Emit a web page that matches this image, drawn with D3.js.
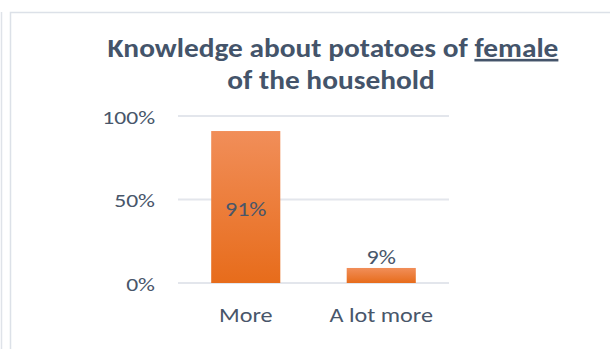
<!DOCTYPE html>
<html>
<head>
<meta charset="utf-8">
<script src="https://cdn.jsdelivr.net/npm/d3@7"></script>
<style>
  html, body { margin: 0; padding: 0; background: #fff; }
  svg { display: block; }
</style>
</head>
<body>
<script>
// Survey answers and their shares
const categories = ["More", "A lot more"];
const values = [0.91, 0.09];
const valueLabels = ["91%", "9%"];
const yTicks = [0, 0.5, 1];
const yTickLabels = ["0%", "50%", "100%"];
const titleLine1 = ["Knowledge about potatoes of ", "female"];
const titleLine2 = "of the household";

const W = 610, H = 349;
const FONT = "Carlito, Calibri, Lato, sans-serif";
const TEXT = "#48566a";
const TITLE = "#44546a";

const svg = d3.select("body").append("svg")
  .attr("width", W).attr("height", H);

const defs = svg.append("defs");
const grad = defs.append("linearGradient")
  .attr("id", "barFill").attr("x1", 0).attr("y1", 0).attr("x2", 0).attr("y2", 1);
grad.append("stop").attr("offset", "0%").attr("stop-color", "#f18e59");
grad.append("stop").attr("offset", "100%").attr("stop-color", "#e76c1b");

// frame lines
svg.append("line")
  .attr("x1", 1.5).attr("x2", 1.5).attr("y1", 12).attr("y2", H)
  .attr("stroke", "#dfe3e9").attr("stroke-width", 1.5);
svg.append("rect")
  .attr("x", 10.5).attr("y", 12.5).attr("width", 700).attr("height", 400)
  .attr("fill", "#fff").attr("stroke", "#dce1e8").attr("stroke-width", 1.5);

const x = d3.scaleBand().domain(categories).range([178, 449])
  .paddingInner(0.49).paddingOuter(0.245);
const y = d3.scaleLinear().domain([0, 1]).range([283, 116]);

// horizontally stretched text helper
function label(g, tx, ty, str, opts) {
  const sx = opts.sx || 1;
  return g.append("text")
    .attr("transform", `translate(${tx},${ty}) scale(${sx},1)`)
    .attr("text-anchor", opts.anchor || "middle")
    .attr("font-family", FONT)
    .attr("font-size", opts.size)
    .attr("font-weight", opts.weight || 400)
    .attr("fill", opts.fill || TEXT)
    .text(str);
}

// gridlines
const grid = svg.append("g");
grid.selectAll("line").data(yTicks).join("line")
  .attr("x1", x.range()[0]).attr("x2", x.range()[1])
  .attr("y1", d => y(d)).attr("y2", d => y(d))
  .attr("stroke", "#e3e6ec").attr("stroke-width", 2);

// y tick labels
const yl = svg.append("g");
yTicks.forEach((t, i) => {
  label(yl, 155, y(t) + 7.5, yTickLabels[i], { size: 17.5, anchor: "end", sx: 1.35 });
});

// bars
svg.append("g").selectAll("rect").data(values).join("rect")
  .attr("x", (d, i) => x(categories[i]))
  .attr("width", x.bandwidth())
  .attr("y", d => y(d))
  .attr("height", d => y(0) - y(d))
  .attr("fill", "url(#barFill)");

// value labels: inside the tall bar, above the short one
const vl = svg.append("g");
values.forEach((v, i) => {
  const cx = x(categories[i]) + x.bandwidth() / 2;
  const inside = (y(0) - y(v)) > 40;
  const ty = inside ? (y(v) + y(0)) / 2 + 9 : y(v) - 4;
  label(vl, cx, ty, valueLabels[i], { size: 20, sx: 1.2 });
});

// category labels
const xl = svg.append("g");
categories.forEach(c => {
  label(xl, x(c) + x.bandwidth() / 2, 321.7, c, { size: 20.5, sx: 1.18 });
});

// title
const tg = svg.append("g");
const t1 = label(tg, 333, 57, "", { size: 26, weight: 700, fill: TITLE, sx: 1.13 });
t1.append("tspan").text(titleLine1[0]);
t1.append("tspan").attr("text-decoration", "underline").text(titleLine1[1]);
label(tg, 331, 89, titleLine2, { size: 26, weight: 700, fill: TITLE, sx: 1.13 });
</script>
</body>
</html>
